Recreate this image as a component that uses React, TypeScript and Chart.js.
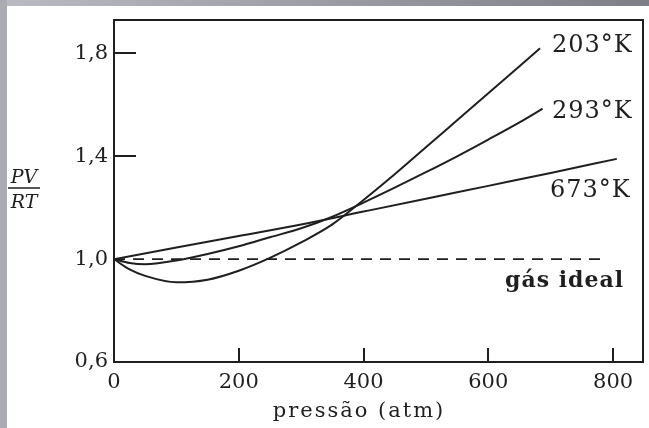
import { useEffect, useRef } from "react";
import { Chart, registerables } from "chart.js";

Chart.register(...registerables);

// ---- data ----
const xTicks = [0, 200, 400, 600, 800];
const yTicks = [0.6, 1.0, 1.4, 1.8];
const yTickLabels = ["0,6", "1,0", "1,4", "1,8"];

const pressure203 = [0, 25, 50, 100, 150, 200, 250, 300, 350, 400, 450, 500, 550, 600, 650, 683];
const pv203 = [1.0, 0.96, 0.935, 0.91, 0.92, 0.955, 1.005, 1.065, 1.135, 1.23, 1.33, 1.435, 1.54, 1.645, 1.75, 1.82];

const pressure293 = [0, 25, 50, 100, 150, 200, 250, 300, 350, 400, 450, 500, 550, 600, 650, 687];
const pv293 = [1.0, 0.985, 0.98, 0.995, 1.02, 1.05, 1.085, 1.12, 1.165, 1.22, 1.278, 1.338, 1.4, 1.465, 1.532, 1.585];

const pressure673 = [0, 100, 200, 300, 400, 500, 600, 700, 806];
const pv673 = [1.0, 1.045, 1.09, 1.135, 1.185, 1.235, 1.285, 1.335, 1.39];

const pressureIdeal = [0, 785];
const pvIdeal = [1.0, 1.0];

const seriesLabels = ["203°K", "293°K", "673°K", "gás ideal"];
const xTitle = "pressão (atm)";
const yTitleTop = "PV";
const yTitleBottom = "RT";

const FONT = "'DejaVu Serif', serif";
const INK = "#1f1f1f";

const toPoints = (xs: number[], ys: number[]) => xs.map((x, i) => ({ x, y: ys[i] }));

const decorPlugin = {
  id: "decor",
  beforeDraw(chart: any) {
    const { ctx, width, height } = chart;
    ctx.save();
    ctx.fillStyle = "#ffffff";
    ctx.fillRect(0, 0, width, height);
    const g = ctx.createLinearGradient(0, 0, width, 0);
    g.addColorStop(0, "#babac2");
    g.addColorStop(1, "#7e7e87");
    ctx.fillStyle = g;
    ctx.fillRect(0, 0, width, 6);
    ctx.fillStyle = "#ababb3";
    ctx.fillRect(0, 0, 7, height);
    ctx.restore();
  },
  afterDraw(chart: any) {
    const { ctx, chartArea: ca, scales } = chart;
    const xs = scales.x;
    const ys = scales.y;
    ctx.save();
    // frame
    ctx.strokeStyle = INK;
    ctx.lineWidth = 2;
    ctx.strokeRect(ca.left, ca.top, ca.right - ca.left, ca.bottom - ca.top);
    // inner tick marks
    ctx.beginPath();
    xTicks.filter((v) => v > 0).forEach((v) => {
      const px = Math.round(xs.getPixelForValue(v));
      ctx.moveTo(px, ca.bottom);
      ctx.lineTo(px, ca.bottom - 14);
    });
    yTicks.filter((v) => v > 1.0).forEach((v) => {
      const py = Math.round(ys.getPixelForValue(v));
      ctx.moveTo(ca.left, py);
      ctx.lineTo(ca.left + 22, py);
    });
    ctx.stroke();

    ctx.fillStyle = INK;
    ctx.textBaseline = "alphabetic";
    // series labels
    ctx.font = `24px ${FONT}`;
    (ctx as any).letterSpacing = "1px";
    ctx.textAlign = "left";
    ctx.fillText(seriesLabels[0], 552, 52);
    ctx.fillText(seriesLabels[1], 552, 118);
    ctx.fillText(seriesLabels[2], 550, 197);
    ctx.font = `bold 22px ${FONT}`;
    ctx.fillText(seriesLabels[3], 505, 287);

    // x title
    ctx.font = `21px ${FONT}`;
    (ctx as any).letterSpacing = "2px";
    ctx.textAlign = "center";
    ctx.fillText(xTitle, 359, 417);

    // y title as fraction
    (ctx as any).letterSpacing = "0px";
    ctx.font = `italic 19px ${FONT}`;
    ctx.fillText(yTitleTop, 24, 183);
    ctx.fillText(yTitleBottom, 24, 208);
    ctx.lineWidth = 1.5;
    ctx.beginPath();
    ctx.moveTo(8, 188);
    ctx.lineTo(40, 188);
    ctx.stroke();
    ctx.restore();
  },
};

export default function App() {
  const ref = useRef<HTMLCanvasElement | null>(null);

  useEffect(() => {
    document.body.style.margin = "0";
    const canvas = ref.current;
    if (!canvas) return;
    const lineStyle = {
      borderColor: INK,
      borderWidth: 2,
      pointRadius: 0,
      fill: false,
      cubicInterpolationMode: "monotone" as const,
    };
    const chart = new Chart(canvas, {
      type: "line",
      data: {
        datasets: [
          { label: seriesLabels[0], data: toPoints(pressure203, pv203), ...lineStyle },
          { label: seriesLabels[1], data: toPoints(pressure293, pv293), ...lineStyle },
          { label: seriesLabels[2], data: toPoints(pressure673, pv673), ...lineStyle },
          {
            label: seriesLabels[3],
            data: toPoints(pressureIdeal, pvIdeal),
            borderColor: INK,
            borderWidth: 1.6,
            borderDash: [11, 8],
            pointRadius: 0,
            fill: false,
          },
        ],
      },
      options: {
        responsive: false,
        animation: false,
        devicePixelRatio: 1,
        layout: { padding: { top: 20, right: 6, left: 0, bottom: 0 } },
        plugins: {
          legend: { display: false },
          tooltip: { enabled: false },
        },
        scales: {
          x: {
            type: "linear",
            min: 0,
            max: 848,
            afterBuildTicks: (s: any) => {
              s.ticks = xTicks.map((v) => ({ value: v }));
            },
            afterFit: (s: any) => {
              s.height = 66;
            },
            grid: { display: false, drawTicks: false },
            border: { display: false },
            ticks: {
              padding: 8,
              color: INK,
              autoSkip: false,
              maxRotation: 0,
              font: { family: FONT, size: 21 },
            },
          },
          y: {
            type: "linear",
            min: 0.6,
            max: 1.93,
            afterBuildTicks: (s: any) => {
              s.ticks = yTicks.map((v) => ({ value: v }));
            },
            afterFit: (s: any) => {
              s.width = 114;
            },
            grid: { display: false, drawTicks: false },
            border: { display: false },
            ticks: {
              padding: 6,
              color: INK,
              autoSkip: false,
              font: { family: FONT, size: 21 },
              callback: (_v: any, i: number) => yTickLabels[i],
            },
          },
        },
      },
      plugins: [decorPlugin],
    });
    return () => chart.destroy();
  }, []);

  return <canvas ref={ref} width={649} height={428} style={{ display: "block" }} />;
}
